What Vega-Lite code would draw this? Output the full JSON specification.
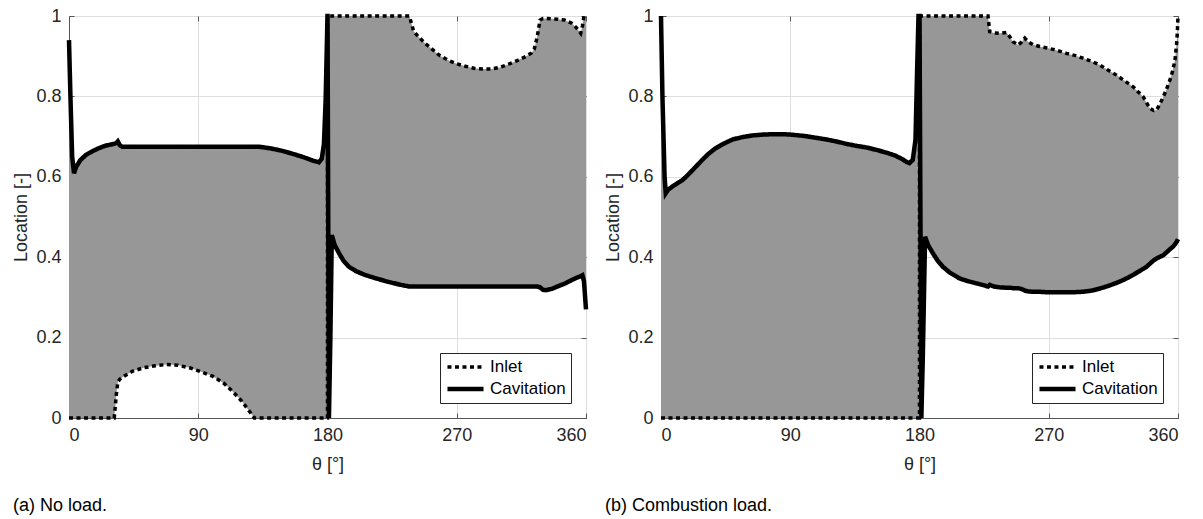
{
  "$schema": "https://vega.github.io/schema/vega-lite/v6.json",
  "background": "white",
  "padding": {"left": 12, "top": 6, "right": 5, "bottom": 5},
  "bounds": "flush",
  "spacing": 75,
  "config": {
    "font": "Liberation Sans",
    "view": {"stroke": "#555555", "strokeWidth": 1},
    "axis": {
      "labelFontSize": 18, "titleFontSize": 18, "labelColor": "#262626", "titleColor": "#262626",
      "titleFontWeight": "normal", "domainColor": "#555555", "gridColor": "#dedede", "gridOpacity": 1,
      "ticks": true, "tickSize": -5, "tickColor": "#555555", "labelPadding": 13
    },
    "axisX": {"titlePadding": 11},
    "axisY": {"titlePadding": 5},
    "legend": {
      "orient": "bottom-right", "offset": 15, "strokeColor": "#262626", "fillColor": "white",
      "padding": 5, "labelFontSize": 17, "labelColor": "#000000", "symbolSize": 1300, "clipHeight": 18,
      "rowPadding": 4, "labelOffset": 4, "symbolStrokeColor": "black", "symbolType": "stroke"
    }
  },
  "resolve": {"legend": {"strokeDash": "independent", "strokeWidth": "independent"}},
  "hconcat": [
    {
      "width": 517, "height": 402,
      "title": {"text": "(a) No load.", "orient": "bottom", "anchor": "start", "frame": "bounds", "offset": 24, "fontSize": 18, "fontWeight": "normal", "color": "black"},
      "data": {"values": [
        {"t": 0, "Inlet": 0, "Cavitation": 0.94},
        {"t": 1, "Inlet": 0, "Cavitation": 0.80},
        {"t": 2.2, "Inlet": 0, "Cavitation": 0.65},
        {"t": 3.5, "Inlet": 0, "Cavitation": 0.609},
        {"t": 5, "Inlet": 0, "Cavitation": 0.625},
        {"t": 8, "Inlet": 0, "Cavitation": 0.642},
        {"t": 12, "Inlet": 0, "Cavitation": 0.655},
        {"t": 16, "Inlet": 0, "Cavitation": 0.663},
        {"t": 20, "Inlet": 0, "Cavitation": 0.670},
        {"t": 25, "Inlet": 0, "Cavitation": 0.677},
        {"t": 30, "Inlet": 0, "Cavitation": 0.681},
        {"t": 31.5, "Inlet": 0, "Cavitation": 0.682},
        {"t": 33, "Inlet": 0.06, "Cavitation": 0.684},
        {"t": 34, "Inlet": 0.09, "Cavitation": 0.688},
        {"t": 35.5, "Inlet": 0.097, "Cavitation": 0.678},
        {"t": 37, "Inlet": 0.101, "Cavitation": 0.675},
        {"t": 44, "Inlet": 0.116, "Cavitation": 0.675},
        {"t": 52, "Inlet": 0.125, "Cavitation": 0.675},
        {"t": 60, "Inlet": 0.130, "Cavitation": 0.675},
        {"t": 68, "Inlet": 0.133, "Cavitation": 0.675},
        {"t": 76, "Inlet": 0.131, "Cavitation": 0.675},
        {"t": 84, "Inlet": 0.125, "Cavitation": 0.675},
        {"t": 92, "Inlet": 0.115, "Cavitation": 0.675},
        {"t": 100, "Inlet": 0.104, "Cavitation": 0.675},
        {"t": 108, "Inlet": 0.086, "Cavitation": 0.675},
        {"t": 115, "Inlet": 0.062, "Cavitation": 0.675},
        {"t": 120, "Inlet": 0.043, "Cavitation": 0.675},
        {"t": 125, "Inlet": 0.02, "Cavitation": 0.675},
        {"t": 129, "Inlet": 0, "Cavitation": 0.675},
        {"t": 132, "Inlet": 0, "Cavitation": 0.675},
        {"t": 140, "Inlet": 0, "Cavitation": 0.671},
        {"t": 148, "Inlet": 0, "Cavitation": 0.665},
        {"t": 156, "Inlet": 0, "Cavitation": 0.657},
        {"t": 164, "Inlet": 0, "Cavitation": 0.648},
        {"t": 170, "Inlet": 0, "Cavitation": 0.640},
        {"t": 174, "Inlet": 0, "Cavitation": 0.636},
        {"t": 176, "Inlet": 0, "Cavitation": 0.645},
        {"t": 177.5, "Inlet": 0, "Cavitation": 0.68},
        {"t": 178.7, "Inlet": 0, "Cavitation": 0.79},
        {"t": 179.5, "Inlet": 0, "Cavitation": 0.92},
        {"t": 179.99, "Inlet": 0, "Cavitation": 1},
        {"t": 180.01, "Inlet": 1, "Cavitation": 1},
        {"t": 181, "Inlet": 1, "Cavitation": 0},
        {"t": 182, "Inlet": 1, "Cavitation": 0.2},
        {"t": 183, "Inlet": 1, "Cavitation": 0.455},
        {"t": 185, "Inlet": 1, "Cavitation": 0.43},
        {"t": 188, "Inlet": 1, "Cavitation": 0.41},
        {"t": 191, "Inlet": 1, "Cavitation": 0.392},
        {"t": 195, "Inlet": 1, "Cavitation": 0.376},
        {"t": 200, "Inlet": 1, "Cavitation": 0.365},
        {"t": 206, "Inlet": 1, "Cavitation": 0.356},
        {"t": 214, "Inlet": 1, "Cavitation": 0.347},
        {"t": 222, "Inlet": 1, "Cavitation": 0.339},
        {"t": 230, "Inlet": 1, "Cavitation": 0.332},
        {"t": 237, "Inlet": 1, "Cavitation": 0.327},
        {"t": 240, "Inlet": 0.962, "Cavitation": 0.327},
        {"t": 244, "Inlet": 0.946, "Cavitation": 0.327},
        {"t": 248, "Inlet": 0.932, "Cavitation": 0.327},
        {"t": 253, "Inlet": 0.917, "Cavitation": 0.327},
        {"t": 258, "Inlet": 0.902, "Cavitation": 0.327},
        {"t": 264, "Inlet": 0.890, "Cavitation": 0.327},
        {"t": 270, "Inlet": 0.881, "Cavitation": 0.327},
        {"t": 276, "Inlet": 0.875, "Cavitation": 0.327},
        {"t": 282, "Inlet": 0.870, "Cavitation": 0.327},
        {"t": 288, "Inlet": 0.868, "Cavitation": 0.327},
        {"t": 294, "Inlet": 0.868, "Cavitation": 0.327},
        {"t": 300, "Inlet": 0.872, "Cavitation": 0.327},
        {"t": 306, "Inlet": 0.880, "Cavitation": 0.327},
        {"t": 312, "Inlet": 0.889, "Cavitation": 0.327},
        {"t": 318, "Inlet": 0.899, "Cavitation": 0.327},
        {"t": 322, "Inlet": 0.908, "Cavitation": 0.327},
        {"t": 324, "Inlet": 0.918, "Cavitation": 0.327},
        {"t": 326, "Inlet": 0.948, "Cavitation": 0.327},
        {"t": 328, "Inlet": 0.990, "Cavitation": 0.325},
        {"t": 330, "Inlet": 0.994, "Cavitation": 0.319},
        {"t": 332, "Inlet": 0.994, "Cavitation": 0.318},
        {"t": 336, "Inlet": 0.993, "Cavitation": 0.321},
        {"t": 340, "Inlet": 0.992, "Cavitation": 0.327},
        {"t": 345, "Inlet": 0.990, "Cavitation": 0.334},
        {"t": 350, "Inlet": 0.982, "Cavitation": 0.343},
        {"t": 353, "Inlet": 0.972, "Cavitation": 0.348},
        {"t": 356.3, "Inlet": 0.957, "Cavitation": 0.353},
        {"t": 357.5, "Inlet": 0.975, "Cavitation": 0.355},
        {"t": 358.6, "Inlet": 1.0, "Cavitation": 0.34},
        {"t": 360, "Inlet": 1.0, "Cavitation": 0.27}
      ]},
      "resolve": {"axis": {"x": "independent", "y": "independent"}},
      "layer": [
        {
          "mark": {"type": "area", "color": "#979797", "opacity": 1},
          "encoding": {
            "x": {"field": "t", "type": "quantitative", "scale": {"domain": [0, 360], "nice": false}, "title": "θ [°]", "axis": {"values": [0, 90, 180, 270, 360], "grid": true}},
            "y": {"field": "Inlet", "type": "quantitative", "scale": {"domain": [0, 1], "nice": false}, "title": "Location [-]", "axis": {"values": [0, 0.2, 0.4, 0.6, 0.8, 1], "format": "~g", "grid": true}},
            "y2": {"field": "Cavitation"}
          }
        },
        {
          "transform": [{"fold": ["Inlet", "Cavitation"], "as": ["series", "v"]}],
          "mark": {"type": "line", "color": "black"},
          "encoding": {
            "x": {"field": "t", "type": "quantitative", "axis": {"orient": "top", "values": [0, 90, 180, 270, 360], "labels": false, "title": null, "grid": false, "domain": false}},
            "y": {"field": "v", "type": "quantitative", "axis": {"orient": "right", "values": [0, 0.2, 0.4, 0.6, 0.8, 1], "labels": false, "title": null, "grid": false, "domain": false}},
            "strokeDash": {"field": "series", "type": "ordinal", "scale": {"domain": ["Inlet", "Cavitation"], "range": [[4, 3.5], [1, 0]]}, "legend": {"title": null}},
            "strokeWidth": {"field": "series", "type": "ordinal", "scale": {"domain": ["Inlet", "Cavitation"], "range": [3.5, 4.5]}, "legend": {"title": null}}
          }
        }
      ]
    },
    {
      "width": 517, "height": 402,
      "title": {"text": "(b) Combustion load.", "orient": "bottom", "anchor": "start", "frame": "bounds", "offset": 24, "fontSize": 18, "fontWeight": "normal", "color": "black"},
      "data": {"values": [
        {"t": 0, "Inlet": 0, "Cavitation": 1.0},
        {"t": 1, "Inlet": 0, "Cavitation": 0.8},
        {"t": 2.5, "Inlet": 0, "Cavitation": 0.6},
        {"t": 3.3, "Inlet": 0, "Cavitation": 0.559},
        {"t": 5, "Inlet": 0, "Cavitation": 0.568},
        {"t": 8, "Inlet": 0, "Cavitation": 0.576},
        {"t": 11, "Inlet": 0, "Cavitation": 0.583},
        {"t": 15, "Inlet": 0, "Cavitation": 0.592},
        {"t": 18, "Inlet": 0, "Cavitation": 0.602},
        {"t": 21, "Inlet": 0, "Cavitation": 0.613},
        {"t": 25, "Inlet": 0, "Cavitation": 0.628},
        {"t": 29, "Inlet": 0, "Cavitation": 0.643},
        {"t": 33, "Inlet": 0, "Cavitation": 0.657},
        {"t": 38, "Inlet": 0, "Cavitation": 0.671},
        {"t": 44, "Inlet": 0, "Cavitation": 0.683},
        {"t": 50, "Inlet": 0, "Cavitation": 0.693},
        {"t": 57, "Inlet": 0, "Cavitation": 0.699},
        {"t": 64, "Inlet": 0, "Cavitation": 0.703},
        {"t": 71, "Inlet": 0, "Cavitation": 0.705},
        {"t": 78, "Inlet": 0, "Cavitation": 0.706},
        {"t": 85, "Inlet": 0, "Cavitation": 0.706},
        {"t": 90, "Inlet": 0, "Cavitation": 0.705},
        {"t": 96, "Inlet": 0, "Cavitation": 0.703},
        {"t": 101, "Inlet": 0, "Cavitation": 0.701},
        {"t": 108, "Inlet": 0, "Cavitation": 0.697},
        {"t": 115, "Inlet": 0, "Cavitation": 0.693},
        {"t": 122, "Inlet": 0, "Cavitation": 0.688},
        {"t": 129, "Inlet": 0, "Cavitation": 0.682},
        {"t": 136, "Inlet": 0, "Cavitation": 0.677},
        {"t": 143, "Inlet": 0, "Cavitation": 0.673},
        {"t": 150, "Inlet": 0, "Cavitation": 0.667},
        {"t": 157, "Inlet": 0, "Cavitation": 0.660},
        {"t": 163, "Inlet": 0, "Cavitation": 0.653},
        {"t": 168, "Inlet": 0, "Cavitation": 0.644},
        {"t": 171, "Inlet": 0, "Cavitation": 0.637},
        {"t": 173, "Inlet": 0, "Cavitation": 0.634},
        {"t": 175.3, "Inlet": 0, "Cavitation": 0.642},
        {"t": 177.2, "Inlet": 0, "Cavitation": 0.692},
        {"t": 178.4, "Inlet": 0, "Cavitation": 0.874},
        {"t": 179.3, "Inlet": 0, "Cavitation": 1.0},
        {"t": 179.99, "Inlet": 0, "Cavitation": 1.0},
        {"t": 180.01, "Inlet": 1, "Cavitation": 1.0},
        {"t": 181.3, "Inlet": 1, "Cavitation": 0},
        {"t": 182.3, "Inlet": 1, "Cavitation": 0.15},
        {"t": 183.9, "Inlet": 1, "Cavitation": 0.451},
        {"t": 186, "Inlet": 1, "Cavitation": 0.43},
        {"t": 189.3, "Inlet": 1, "Cavitation": 0.41},
        {"t": 192.5, "Inlet": 1, "Cavitation": 0.392},
        {"t": 196.3, "Inlet": 1, "Cavitation": 0.376},
        {"t": 201, "Inlet": 1, "Cavitation": 0.362},
        {"t": 208, "Inlet": 1, "Cavitation": 0.347},
        {"t": 214, "Inlet": 1, "Cavitation": 0.340},
        {"t": 219.6, "Inlet": 1, "Cavitation": 0.335},
        {"t": 224, "Inlet": 1, "Cavitation": 0.331},
        {"t": 227.7, "Inlet": 1, "Cavitation": 0.327},
        {"t": 228.9, "Inlet": 0.961, "Cavitation": 0.331},
        {"t": 232, "Inlet": 0.958, "Cavitation": 0.327},
        {"t": 235.8, "Inlet": 0.957, "Cavitation": 0.325},
        {"t": 240.5, "Inlet": 0.959, "Cavitation": 0.324},
        {"t": 243, "Inlet": 0.948, "Cavitation": 0.324},
        {"t": 245.1, "Inlet": 0.936, "Cavitation": 0.323},
        {"t": 248.6, "Inlet": 0.928, "Cavitation": 0.323},
        {"t": 251, "Inlet": 0.935, "Cavitation": 0.321},
        {"t": 253.3, "Inlet": 0.945, "Cavitation": 0.317},
        {"t": 255.6, "Inlet": 0.936, "Cavitation": 0.315},
        {"t": 259, "Inlet": 0.929, "Cavitation": 0.314},
        {"t": 263.7, "Inlet": 0.924, "Cavitation": 0.314},
        {"t": 268, "Inlet": 0.921, "Cavitation": 0.313},
        {"t": 273, "Inlet": 0.917, "Cavitation": 0.313},
        {"t": 278, "Inlet": 0.912, "Cavitation": 0.313},
        {"t": 282.3, "Inlet": 0.907, "Cavitation": 0.313},
        {"t": 288, "Inlet": 0.902, "Cavitation": 0.313},
        {"t": 293.9, "Inlet": 0.895, "Cavitation": 0.314},
        {"t": 300, "Inlet": 0.887, "Cavitation": 0.317},
        {"t": 305.6, "Inlet": 0.878, "Cavitation": 0.322},
        {"t": 311, "Inlet": 0.866, "Cavitation": 0.328},
        {"t": 317.2, "Inlet": 0.853, "Cavitation": 0.336},
        {"t": 323, "Inlet": 0.838, "Cavitation": 0.345},
        {"t": 328.8, "Inlet": 0.824, "Cavitation": 0.356},
        {"t": 332, "Inlet": 0.812, "Cavitation": 0.363},
        {"t": 335.8, "Inlet": 0.799, "Cavitation": 0.371},
        {"t": 338, "Inlet": 0.785, "Cavitation": 0.376},
        {"t": 340.5, "Inlet": 0.770, "Cavitation": 0.384},
        {"t": 343, "Inlet": 0.765, "Cavitation": 0.392},
        {"t": 345.1, "Inlet": 0.766, "Cavitation": 0.397},
        {"t": 347.5, "Inlet": 0.782, "Cavitation": 0.401},
        {"t": 349.8, "Inlet": 0.799, "Cavitation": 0.405},
        {"t": 352, "Inlet": 0.818, "Cavitation": 0.412},
        {"t": 354.4, "Inlet": 0.841, "Cavitation": 0.420},
        {"t": 356.5, "Inlet": 0.866, "Cavitation": 0.426},
        {"t": 357.9, "Inlet": 0.891, "Cavitation": 0.432},
        {"t": 359, "Inlet": 0.930, "Cavitation": 0.438},
        {"t": 359.5, "Inlet": 0.957, "Cavitation": 0.441},
        {"t": 360, "Inlet": 1.0, "Cavitation": 0.445}
      ]},
      "resolve": {"axis": {"x": "independent", "y": "independent"}},
      "layer": [
        {
          "mark": {"type": "area", "color": "#979797", "opacity": 1},
          "encoding": {
            "x": {"field": "t", "type": "quantitative", "scale": {"domain": [0, 360], "nice": false}, "title": "θ [°]", "axis": {"values": [0, 90, 180, 270, 360], "grid": true}},
            "y": {"field": "Inlet", "type": "quantitative", "scale": {"domain": [0, 1], "nice": false}, "title": "Location [-]", "axis": {"values": [0, 0.2, 0.4, 0.6, 0.8, 1], "format": "~g", "grid": true}},
            "y2": {"field": "Cavitation"}
          }
        },
        {
          "transform": [{"fold": ["Inlet", "Cavitation"], "as": ["series", "v"]}],
          "mark": {"type": "line", "color": "black"},
          "encoding": {
            "x": {"field": "t", "type": "quantitative", "axis": {"orient": "top", "values": [0, 90, 180, 270, 360], "labels": false, "title": null, "grid": false, "domain": false}},
            "y": {"field": "v", "type": "quantitative", "axis": {"orient": "right", "values": [0, 0.2, 0.4, 0.6, 0.8, 1], "labels": false, "title": null, "grid": false, "domain": false}},
            "strokeDash": {"field": "series", "type": "ordinal", "scale": {"domain": ["Inlet", "Cavitation"], "range": [[4, 3.5], [1, 0]]}, "legend": {"title": null}},
            "strokeWidth": {"field": "series", "type": "ordinal", "scale": {"domain": ["Inlet", "Cavitation"], "range": [3.5, 4.5]}, "legend": {"title": null}}
          }
        }
      ]
    }
  ]
}
